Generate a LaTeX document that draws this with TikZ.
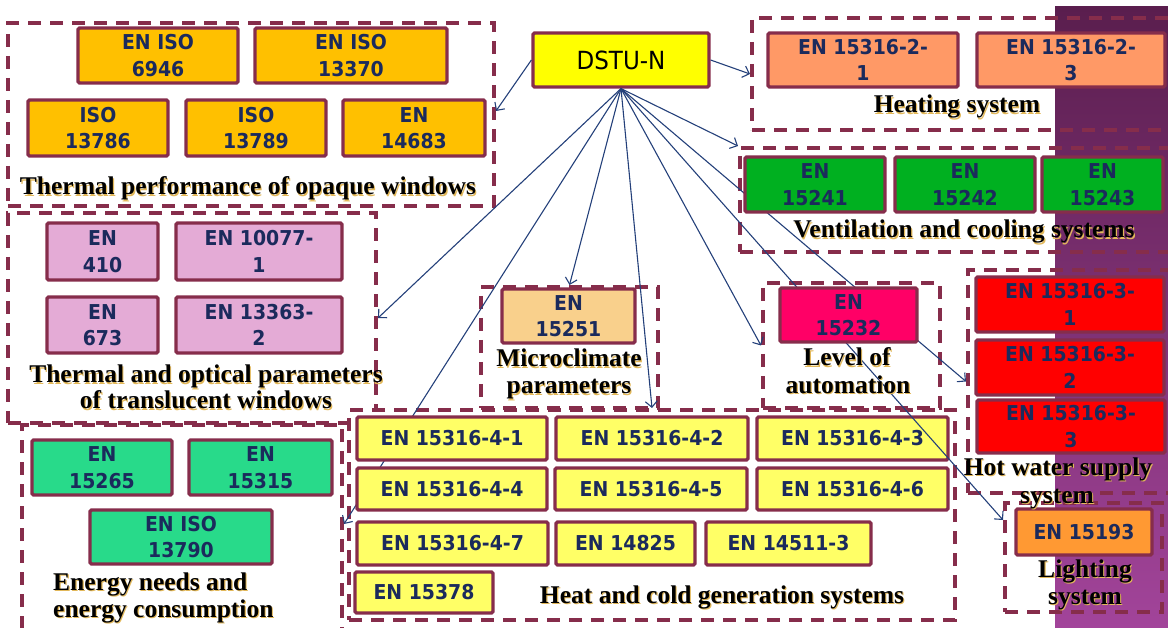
\documentclass[tikz,border=0pt]{standalone}
\usepackage{fontspec}
\setmainfont{Liberation Serif}
\newfontfamily\boxfont{DejaVu Sans}[FakeStretch=0.92]
\usetikzlibrary{arrows.meta,calc}

\definecolor{frame}{HTML}{862D4B}
\definecolor{ink}{HTML}{1B2A5C}
\definecolor{linkc}{HTML}{24407A}
\definecolor{bandtop}{HTML}{5A1E4E}
\definecolor{bandbot}{HTML}{A2449A}
\definecolor{glowc}{HTML}{E2B85A}
\definecolor{cOpaque}{HTML}{FFC000}
\definecolor{cTransl}{HTML}{E4ABD6}
\definecolor{cEnergy}{HTML}{28DA8A}
\definecolor{cHeat}{HTML}{FF9966}
\definecolor{cVent}{HTML}{00B020}
\definecolor{cMicro}{HTML}{F9D08C}
\definecolor{cAuto}{HTML}{FF0066}
\definecolor{cWater}{HTML}{FF0000}
\definecolor{cLight}{HTML}{FF9933}
\definecolor{cGen}{HTML}{FFFF66}
\definecolor{cRoot}{HTML}{FFFF00}

\tikzset{
  stdbox/.style={draw=frame, line width=3.2pt, rounded corners=1.5pt, inner sep=0pt,
    align=center, text=ink, font=\boxfont\bfseries\fontsize{20.5}{26.5}\selectfont},
  grp/.style={draw=frame, line width=4pt, dash pattern=on 13pt off 9pt, inner sep=0pt},
  lbl/.style={font=\bfseries\fontsize{25.5}{27}\selectfont, text=black, inner sep=0pt, anchor=base},
  link/.style={draw=linkc, line width=1.1pt,
    -{Straight Barb[length=6pt,width=12pt,line width=1.1pt]}},
}

% caption text with a warm drop glow
\newcommand\glowtxt[1]{\leavevmode\rlap{\kern1.1pt\raisebox{-1.1pt}{\textcolor{glowc}{#1}}}#1}
% box given by its corners: fill, x1, y1, x2, y2, name, text
\newcommand\enbox[7]{\node[stdbox, fill=#1, minimum width={(#4-#2)*1pt},
  minimum height={(#5-#3)*1pt}] (#6) at ({(#2+#4)/2},{(#3+#5)/2}) {#7};}
% dashed group frame by its corners
\newcommand\grpframe[6][]{\node[grp, #1, minimum width={(#4-#2)*1pt},
  minimum height={(#5-#3)*1pt}] (#6) at ({(#2+#4)/2},{(#3+#5)/2}) {};}

\begin{document}
\begin{tikzpicture}[x=1pt,y=-1pt]
\useasboundingbox (0,0) rectangle (1168,628);
\clip (0,0) rectangle (1168,628);

% purple band on the right
\shade[top color=bandtop, bottom color=bandbot] (1055,7) rectangle (1168,628);

% group frames
\grpframe{8}{23}{494}{206}{g1}
\grpframe{8}{213}{376}{423}{g2}
\grpframe{22}{425}{342}{650}{g3}
\grpframe{481}{287}{658}{408}{gm}
\grpframe{763}{283}{940}{408}{ga}
\grpframe{752}{18}{1190}{130}{gh}
\grpframe{740}{148}{1190}{252}{gv}
\grpframe{968}{270}{1190}{493}{gw}
\grpframe{1005}{503}{1162}{612}{gl}
\grpframe[fill=white]{349}{410}{955}{620}{g4}

% root
\enbox{cRoot}{533}{33}{709}{87}{dstu}{\fontseries{m}\selectfont\color{black}\fontsize{25}{28}\selectfont DSTU-N}

% arrow passing under the generation boxes
\draw[link] (dstu.south) -- ($(g3.north east)+(0,101)$);

% heat and cold generation systems
\enbox{cGen}{357}{417}{547}{460}{h41}{EN 15316-4-1}
\enbox{cGen}{556}{417}{748}{460}{h42}{EN 15316-4-2}
\enbox{cGen}{757}{417}{948}{460}{h43}{EN 15316-4-3}
\enbox{cGen}{357}{468}{547}{510}{h44}{EN 15316-4-4}
\enbox{cGen}{555}{468}{747}{510}{h45}{EN 15316-4-5}
\enbox{cGen}{757}{468}{948}{510}{h46}{EN 15316-4-6}
\enbox{cGen}{357}{522}{548}{565}{h47}{EN 15316-4-7}
\enbox{cGen}{556}{522}{695}{565}{h14825}{EN 14825}
\enbox{cGen}{706}{522}{871}{565}{h14511}{EN 14511-3}
\enbox{cGen}{355}{572}{493}{613}{h15378}{EN 15378}

% remaining links
\draw[link] (dstu.west) -- ($(g1.north east)+(0,90)$);
\draw[link] (dstu.east) -- (gh.west);
\draw[link] (dstu.south) -- (g2.east);
\draw[link] (dstu.south) -- (gm.north);
\draw[link] (dstu.south) -- (g4.north);
\draw[link] (dstu.south) -- (ga.west);
\draw[link] (dstu.south) -- (gv.north west);
\draw[link] (dstu.south) -- (gw.west);
\draw[link] (dstu.south) -- ($(gl.north west)+(0,19)$);

% thermal performance of opaque windows
\enbox{cOpaque}{78}{28}{238}{83}{o6946}{EN ISO\\6946}
\enbox{cOpaque}{255}{28}{447}{83}{o13370}{EN ISO\\13370}
\enbox{cOpaque}{28}{100}{168}{156}{o13786}{ISO\\13786}
\enbox{cOpaque}{186}{100}{326}{156}{o13789}{ISO\\13789}
\enbox{cOpaque}{343}{100}{485}{156}{o14683}{EN\\14683}

% translucent windows
\enbox{cTransl}{47}{223}{158}{280}{t410}{EN\\410}
\enbox{cTransl}{176}{223}{342}{280}{t10077}{EN 10077-\\1}
\enbox{cTransl}{47}{297}{158}{353}{t673}{EN\\673}
\enbox{cTransl}{176}{297}{342}{353}{t13363}{EN 13363-\\2}

% energy needs
\enbox{cEnergy}{32}{440}{172}{495}{e15265}{EN\\15265}
\enbox{cEnergy}{189}{440}{332}{495}{e15315}{EN\\15315}
\enbox{cEnergy}{90}{510}{272}{564}{e13790}{EN ISO\\13790}

% heating
\enbox{cHeat}{768}{33}{958}{87}{s21}{EN 15316-2-\\1}
\enbox{cHeat}{977}{33}{1165}{87}{s23}{EN 15316-2-\\3}

% ventilation and cooling
\enbox{cVent}{745}{157}{885}{212}{v15241}{EN\\15241}
\enbox{cVent}{895}{157}{1035}{212}{v15242}{EN\\15242}
\enbox{cVent}{1042}{157}{1163}{212}{v15243}{EN\\15243}

% microclimate, automation
\enbox{cMicro}{502}{289}{635}{343}{m15251}{EN\\15251}
\enbox{cAuto}{780}{288}{917}{342}{a15232}{EN\\15232}

% hot water
\enbox{cWater}{976}{277}{1164}{332}{w31}{EN 15316-3-\\1}
\enbox{cWater}{976}{340}{1164}{395}{w32}{EN 15316-3-\\2}
\enbox{cWater}{977}{400}{1165}{453}{w33}{EN 15316-3-\\3}

% lighting
\enbox{cLight}{1016}{509}{1152}{555}{l15193}{EN 15193}

% group captions
\node[lbl] (lo) at (248,195) {\glowtxt{Thermal performance of opaque windows}};
\node[lbl] (lt1) at (206,383) {\glowtxt{Thermal and optical parameters}};
\node[lbl] (lt2) at (206,409) {\glowtxt{of translucent windows}};
\node[lbl, anchor=base west] (le1) at (53,590) {\glowtxt{Energy needs and}};
\node[lbl, anchor=base west] (le2) at (53,617) {\glowtxt{energy consumption}};
\node[lbl] (lh) at (957,113) {\glowtxt{Heating system}};
\node[lbl] (lv) at (964,238) {\glowtxt{Ventilation and cooling systems}};
\node[lbl] (lm1) at (569,367) {\glowtxt{Microclimate}};
\node[lbl] (lm2) at (569,394) {\glowtxt{parameters}};
\node[lbl] (la1) at (847,366) {\glowtxt{Level of}};
\node[lbl] (la2) at (848,393) {\glowtxt{automation}};
\node[lbl] (lw1) at (1058,475) {\glowtxt{Hot water supply}};
\node[lbl] (lw2) at (1057,503) {\glowtxt{system}};
\node[lbl] (ll1) at (1085,577) {\glowtxt{Lighting}};
\node[lbl] (ll2) at (1085,604) {\glowtxt{system}};
\node[lbl] (lg) at (722,603) {\glowtxt{Heat and cold generation systems}};
\end{tikzpicture}
\end{document}
